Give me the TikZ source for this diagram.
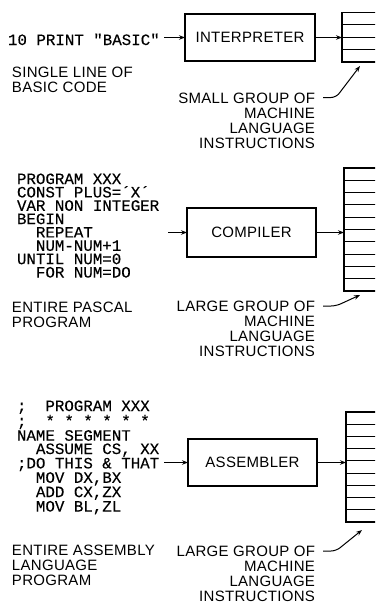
\documentclass[tikz,border=0pt]{standalone}
\usepackage{fontspec}
\setmainfont{Liberation Sans}[LetterSpace=2]
\newfontfamily\codefont{Liberation Mono}[FakeBold=0.2]
\usetikzlibrary{arrows.meta}
\newcommand\labfont{\fontsize{15}{15.2}\selectfont}
\newcommand\cfont{\codefont\fontsize{15.8}{13.35}\selectfont}
\newcommand\ind{\hspace*{1.2em}}
\tikzset{
  proc/.style={draw, line width=1.3pt, inner sep=0pt, outer sep=0pt, font=\labfont},
  stackbox/.style={draw, line width=1.2pt, inner sep=0pt, outer sep=0pt, anchor=north west, minimum width=45pt},
  rowline/.style={line width=1.1pt},
  lab/.style={inner sep=0pt, outer sep=0pt, font=\labfont},
  code/.style={inner sep=0pt, outer sep=0pt, font=\cfont, align=left, anchor=north west},
  flow/.style={line width=1pt, -{Stealth[length=6pt,width=4.5pt]}},
  leader/.style={line width=1pt, rounded corners=5pt, -{Stealth[length=6pt,width=4.5pt]}},
}
\begin{document}
\begin{tikzpicture}[x=1pt,y=-1pt]
\useasboundingbox (0,0) rectangle (375,613);
\clip (0,0) rectangle (375,613);
\fill[white] (0,0) rectangle (375,613);

% ---------- row 1: interpreter ----------
\node[code, anchor=base west] (code1) at (8,45) {10 PRINT "BASIC"};
\node[lab, align=left, anchor=north west] (desc1) at (12,66.6) {SINGLE LINE OF\\BASIC CODE};
\node[proc, minimum width=130pt, minimum height=47pt] (interp) at (250,37.5) {INTERPRETER};
\node[stackbox, minimum height=49.5pt] (stack1) at (342,12.5) {};
\foreach \i in {1,...,3} \draw[rowline] (342,12.5+12.375*\i) -- (390,12.5+12.375*\i);
\node[lab, align=right, anchor=north east] (out1) at (315,92.6) {SMALL GROUP OF\\MACHINE\\LANGUAGE\\INSTRUCTIONS};
\coordinate (in1) at (164,37.5);
\coordinate (tail1) at (323,97.5);
\coordinate (tip1) at (360,66);
\draw[flow] (in1) -- (interp.west);
\draw[flow] (interp.east) -- (interp.east -| stack1.west);
\draw[leader] (tail1) -- ++(13,0) -- (tip1);

% ---------- row 2: compiler ----------
\node[code] (code2) at (17,173.5) {PROGRAM XXX\\CONST PLUS=´X´\\VAR NON INTEGER\\BEGIN\\\ind REPEAT\\\ind NUM-NUM+1\\UNTIL NUM=0\\\ind FOR NUM=DO};
\node[lab, align=left, anchor=north west] (desc2) at (12,301.6) {ENTIRE PASCAL\\PROGRAM};
\node[proc, minimum width=129pt, minimum height=49pt] (comp) at (251.5,232.5) {COMPILER};
\node[stackbox, minimum height=123pt] (stack2) at (344,168) {};
\foreach \i in {1,...,9} \draw[rowline] (344,168+12.3*\i) -- (390,168+12.3*\i);
\node[lab, align=right, anchor=north east] (out2) at (315,300.6) {LARGE GROUP OF\\MACHINE\\LANGUAGE\\INSTRUCTIONS};
\coordinate (in2) at (168,232.5);
\coordinate (tail2) at (323,306);
\coordinate (tip2) at (360,295);
\draw[flow] (in2) -- (comp.west);
\draw[flow] (comp.east) -- (comp.east -| stack2.west);
\draw[leader] (tail2) -- ++(13,0) -- (tip2);

% ---------- row 3: assembler ----------
\node[code] (code3) at (17,400.5) {;\ind PROGRAM XXX\\;\ind * * * * * *\\NAME SEGMENT\\\ind ASSUME CS, XX\\;DO THIS \& THAT\\\ind MOV DX,BX\\\ind ADD CX,ZX\\\ind MOV BL,ZL};
\node[lab, align=left, anchor=north west] (desc3) at (12,544.6) {ENTIRE ASSEMBLY\\LANGUAGE\\PROGRAM};
\node[proc, minimum width=129pt, minimum height=47pt] (asm) at (252.5,462.5) {ASSEMBLER};
\node[stackbox, minimum height=110pt] (stack3) at (346,412) {};
\foreach \i in {1,...,8} \draw[rowline] (346,412+12.222*\i) -- (390,412+12.222*\i);
\node[lab, align=right, anchor=north east] (out3) at (315,545.6) {LARGE GROUP OF\\MACHINE\\LANGUAGE\\INSTRUCTIONS};
\coordinate (in3) at (164,462.5);
\coordinate (tail3) at (323,551);
\coordinate (tip3) at (362,530);
\draw[flow] (in3) -- (asm.west);
\draw[flow] (asm.east) -- (asm.east -| stack3.west);
\draw[leader] (tail3) -- ++(13,0) -- (tip3);
\end{tikzpicture}
\end{document}
